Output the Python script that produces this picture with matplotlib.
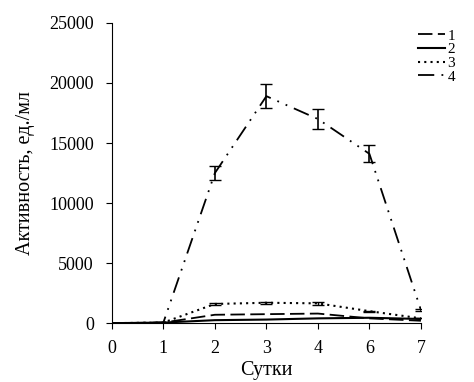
import matplotlib
matplotlib.use("Agg")
import matplotlib.pyplot as plt
from matplotlib.lines import Line2D

plt.rcParams["font.family"] = ["Liberation Serif", "DejaVu Serif"]

days = ["0", "1", "2", "3", "4", "6", "7"]
s1 = [0, 50, 700, 750, 800, 400, 200]
s2 = [0, 50, 250, 300, 400, 450, 350]
s3 = [0, 50, 1600, 1700, 1650, 1000, 400]
s4 = [0, 50, 12500, 18900, 17000, 14100, 1100]
s3_err = [0, 0, 100, 100, 100, 50, 0]
s4_err = [0, 0, 600, 1000, 800, 700, 100]
labels = ["1", "2", "3", "4"]

x = list(range(len(days)))

styles = [
    dict(lw=1.3, linestyle=(0, (8, 3))),
    dict(lw=1.5, linestyle="-"),
    dict(lw=1.5, linestyle=(0, (1, 2))),
    dict(lw=1.3, linestyle=(0, (9, 4, 1, 4, 1, 4))),
]

fig = plt.figure(figsize=(4.74, 3.82), dpi=100)
ax = fig.add_axes([0.236, 0.154, 0.652, 0.786])

ax.plot(x, s1, color="black", **styles[0])
ax.plot(x, s2, color="black", **styles[1])
ax.errorbar(x, s3, yerr=s3_err, color="black", capsize=4, elinewidth=1, **styles[2])
ax.errorbar(x, s4, yerr=s4_err, color="black", capsize=4, elinewidth=1.2, **styles[3])

ax.set_xlim(0, 6)
ax.set_ylim(0, 25000)
ax.set_xticks(x)
ax.set_xticklabels(days)
ax.set_yticks(range(0, 25001, 5000))
ax.tick_params(labelsize=13, direction="out", length=4, color="black")
ax.tick_params(axis="x", pad=8)
ax.tick_params(axis="y", pad=9)
ax.spines["top"].set_visible(False)
ax.spines["right"].set_visible(False)
ax.set_xlabel("Сутки", fontsize=14.5, labelpad=3)
ax.set_ylabel("Активность, ед./мл", fontsize=14.5, labelpad=10)

handles = [Line2D([], [], color="black", **st) for st in styles]
ax.legend(handles, labels, loc="upper left", bbox_to_anchor=(0.99, 0.98),
          frameon=False, fontsize=11, handlelength=1.75, handletextpad=0.2,
          labelspacing=0.0, borderaxespad=0, borderpad=0)

fig.savefig("out.png", dpi=100)
